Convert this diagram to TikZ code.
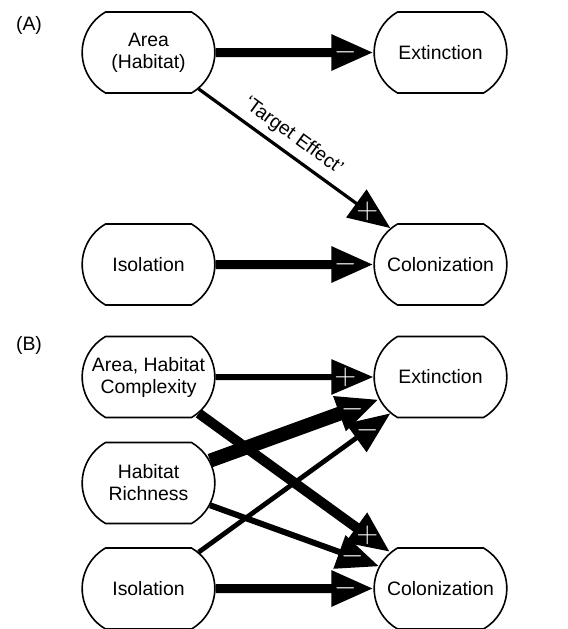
\documentclass[tikz,border=0pt]{standalone}
\usepackage{fontspec}
\setmainfont{Liberation Sans}
\usetikzlibrary{shapes.misc, arrows.meta, decorations.markings}
\tikzstyle{factor} = [rounded rectangle, rounded rectangle arc length=120, minimum width=73pt, minimum height=40.5pt, text centered, align=center, draw=black, line width=0.8pt, font=\fontsize{9.7}{11}\selectfont]
\tikzstyle{panel} = [font=\fontsize{9.7}{11}\selectfont]
\tikzstyle{arrow} = [-{Triangle[length=21pt,width=17pt]}]
\tikzstyle{signtext} = [text=white, inner sep=0pt, font=\fontsize{13.5}{13.5}\selectfont]
\tikzstyle{possign} = [postaction={decorate, decoration={markings, mark=at position -14pt with {\node[signtext] {$+$};}}}]
\tikzstyle{negsign} = [postaction={decorate, decoration={markings, mark=at position -14pt with {\node[signtext] {$-$};}}}]
\begin{document}
\begin{tikzpicture}[x=0.5pt, y=-0.5pt]
		\useasboundingbox (0,0) rectangle (568,629);
		% (A)
		\node (labelA) [panel] at (29,25) {(A)};
		\node (area) [factor] at (148.5,52.5) {Area\\(Habitat)};
		\node (ext1) [factor] at (440.5,52.5) {Extinction};
		\node (iso1) [factor] at (148.5,264.5) {Isolation};
		\node (col1) [factor] at (440.5,264.5) {Colonization};
		\draw [arrow, line width=4.5pt, negsign] (area) -- (ext1);
		\draw [arrow, line width=1.6pt, possign] (area) -- node[panel, sloped, above, pos=0.44] {‘Target Effect’} (col1);
		\draw [arrow, line width=4.5pt, negsign] (iso1) -- (col1);
		% (B)
		\node (labelB) [panel] at (29,345) {(B)};
		\node (ahc) [factor] at (148.5,377) {Area, Habitat\\Complexity};
		\node (rich) [factor] at (148.5,483) {Habitat\\Richness};
		\node (iso2) [factor] at (148.5,588.5) {Isolation};
		\node (ext2) [factor] at (440.5,377) {Extinction};
		\node (col2) [factor] at (440.5,588.5) {Colonization};
		\draw [arrow, line width=3pt, possign] (ahc) -- (ext2);
		\draw [arrow, line width=5pt, possign] (ahc) -- (col2);
		\draw [arrow, line width=3pt, negsign] (rich) -- (col2);
		\draw [arrow, line width=2.4pt, negsign] (iso2) -- (ext2);
		\draw [arrow, line width=7pt, negsign] (rich) -- (ext2);
		\draw [arrow, line width=4.5pt, negsign] (iso2) -- (col2);
	\end{tikzpicture}
\end{document}
